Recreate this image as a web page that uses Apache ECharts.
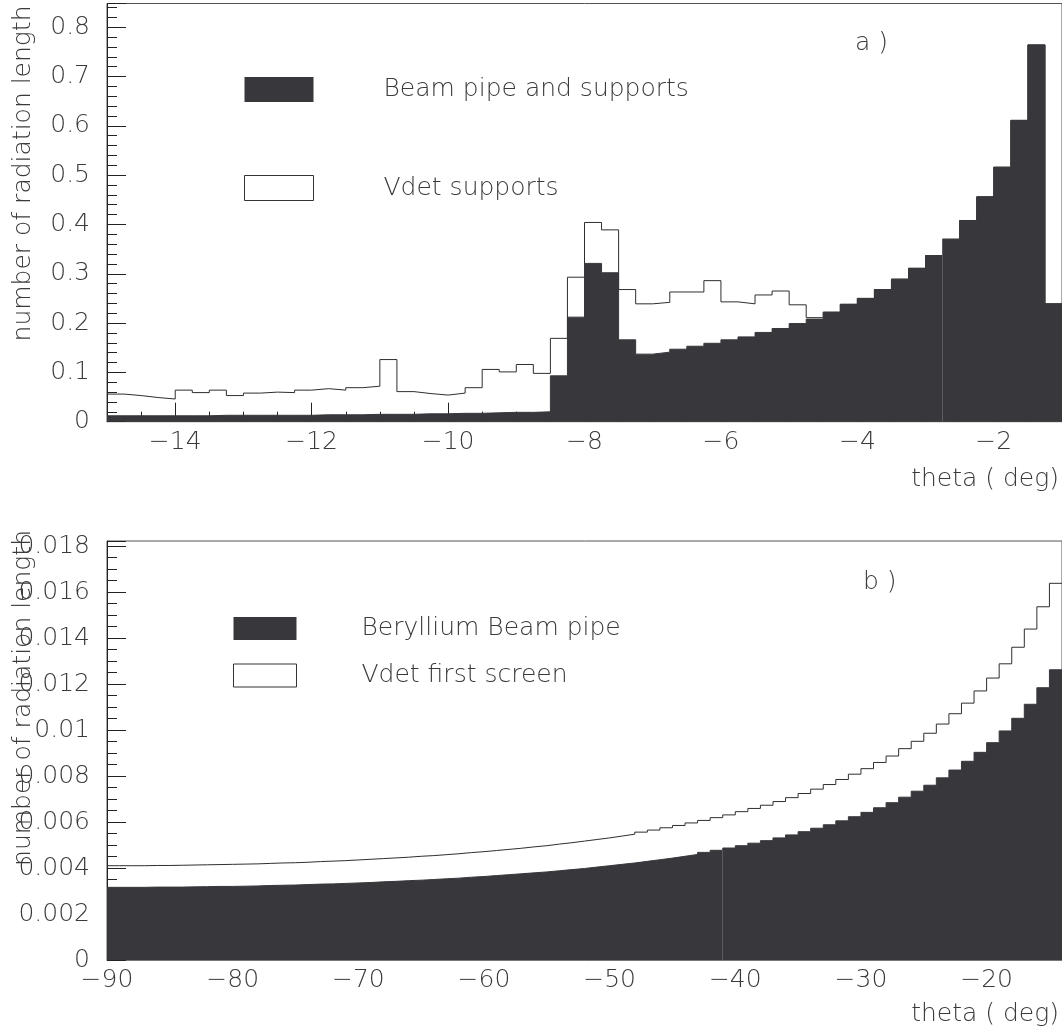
<!DOCTYPE html>
<html>
<head>
<meta charset="utf-8">
<script src="https://cdn.jsdelivr.net/npm/echarts@6/dist/echarts.min.js"></script>
<style>
html,body{margin:0;padding:0;background:#fff;}
#chart{width:1062px;height:1032px;}
</style>
</head>
<body>
<div id="chart"></div>
<script>
// ---------- DATA ----------
// Panel a): bins of 0.25 deg from -15 to -1
const topBinStart = -15;
const topBinWidth = 0.25;
const topBeamPipe = [
  0.012,0.012,0.012,0.012,0.012,0.012,0.013,0.013,0.013,0.013,
  0.013,0.013,0.014,0.014,0.014,0.015,0.015,0.015,0.016,0.016,
  0.017,0.017,0.018,0.019,0.019,0.020,0.093,0.212,0.321,0.302,
  0.166,0.137,0.141,0.147,0.153,0.159,0.166,0.172,0.181,0.189,
  0.199,0.208,0.222,0.238,0.250,0.268,0.289,0.311,0.337,0.370,
  0.408,0.456,0.516,0.611,0.764,0.239
];
const topVdetSupports = [
  0.056,0.053,0.049,0.046,0.064,0.059,0.064,0.053,0.058,0.060,
  0.059,0.064,0.067,0.064,0.069,0.072,0.126,0.061,0.057,0.054,
  0.058,0.069,0.106,0.101,0.116,0.098,0.169,0.293,0.404,0.389,
  0.268,0.239,0.242,0.263,0.263,0.286,0.243,0.239,0.257,0.265,
  0.237,0.211,0.222,0.238,0.250,0.268,0.289,0.311,0.337,0.370,
  0.408,0.456,0.516,0.611,0.764,0.239
];
const topXTickLabels = [-14, -12, -10, -8, -6, -4, -2];
const topSeamBin = 49;

// Panel b): bins of 1 deg from -90 to -14
const botBinStart = -90;
const botBinWidth = 1;
const botBerylliumPipe = [
  0.00316,0.00316,0.00316,0.00317,0.00317,0.00317,0.00318,0.00319,0.00320,0.00320,
  0.00321,0.00322,0.00324,0.00325,0.00326,0.00328,0.00330,0.00331,0.00333,0.00335,
  0.00337,0.00340,0.00342,0.00345,0.00347,0.00350,0.00353,0.00356,0.00360,0.00363,
  0.00367,0.00371,0.00375,0.00379,0.00383,0.00388,0.00393,0.00398,0.00404,0.00410,
  0.00416,0.00422,0.00429,0.00436,0.00443,0.00451,0.00459,0.00468,0.00477,0.00487,
  0.00497,0.00508,0.00519,0.00531,0.00544,0.00558,0.00573,0.00588,0.00605,0.00623,
  0.00642,0.00662,0.00684,0.00708,0.00734,0.00760,0.00792,0.00826,0.00864,0.00903,
  0.00945,0.00996,0.01051,0.01112,0.01184,0.01262
];
const botVdetScreen = [
  0.00410,0.00410,0.00410,0.00411,0.00411,0.00412,0.00413,0.00414,0.00415,0.00416,
  0.00417,0.00418,0.00420,0.00422,0.00423,0.00425,0.00428,0.00430,0.00432,0.00435,
  0.00438,0.00441,0.00444,0.00447,0.00451,0.00454,0.00458,0.00462,0.00467,0.00471,
  0.00476,0.00481,0.00486,0.00492,0.00497,0.00504,0.00510,0.00517,0.00524,0.00531,
  0.00539,0.00547,0.00556,0.00565,0.00575,0.00585,0.00596,0.00607,0.00619,0.00631,
  0.00645,0.00659,0.00673,0.00689,0.00706,0.00724,0.00743,0.00763,0.00785,0.00808,
  0.00832,0.00859,0.00887,0.00919,0.00951,0.00986,0.01026,0.01071,0.01117,0.01170,
  0.01226,0.01288,0.01360,0.01439,0.01536,0.01638
];
const botSeamBin = 49;

// ---------- STYLE ----------
const FILL = '#38373c';
const LINE = '#2e2e2e';
const TEXT = '#3a3a3a';
const FONT = '"DejaVu Sans", Lato, sans-serif';
const FW = 200;
const FS = 25;

function stepPoints(start, width, vals) {
  const pts = vals.map((v, i) => [start + i * width, v]);
  pts.push([start + vals.length * width, vals[vals.length - 1]]);
  return pts;
}
const minus = v => (v < 0 ? '\u2212' + Math.abs(v) : String(v));
const txt = (extra) => Object.assign({color: TEXT, fontFamily: FONT, fontWeight: FW, fontSize: FS}, extra || {});

const chart = echarts.init(document.getElementById('chart'), null, {renderer: 'canvas'});

const yAxisCommon = {
  type: 'value', min: 0,
  name: 'number of radiation length',
  nameLocation: 'end', nameRotate: 90, nameMoveOverlap: false,
  axisLine: {show: true, lineStyle: {color: '#222', width: 1}},
  axisTick: {show: true, inside: true, length: 19, lineStyle: {color: '#222'}},
  splitLine: {show: false},
  axisLabel: {margin: 17, showMaxLabel: false, color: TEXT, fontFamily: FONT, fontWeight: FW, fontSize: FS},
  nameTextStyle: txt({align: 'right', verticalAlign: 'bottom', padding: [0, 0, 71, 0]})
};

const option = {
  animation: false,
  backgroundColor: '#fff',
  title: [
    {text: 'a )', left: 855, top: 31, padding: 0, textStyle: txt()},
    {text: 'b )', left: 863, top: 570, padding: 0, textStyle: txt()}
  ],
  legend: [
    {
      data: [
        {name: 'Beam pipe and supports', icon: 'rect', itemStyle: {color: FILL, borderWidth: 0}},
        {name: 'Vdet supports', icon: 'rect', itemStyle: {color: '#fff', borderColor: '#333', borderWidth: 1}}
      ],
      orient: 'vertical', left: 244, top: 77, padding: 0,
      itemWidth: 69, itemHeight: 25, itemGap: 73, selectedMode: false,
      textStyle: txt({padding: [0, 0, 0, 65]})
    },
    {
      data: [
        {name: 'Beryllium Beam pipe', icon: 'rect', itemStyle: {color: FILL, borderWidth: 0}},
        {name: 'Vdet first screen', icon: 'rect', itemStyle: {color: '#fff', borderColor: '#333', borderWidth: 1}}
      ],
      orient: 'vertical', left: 233, top: 616, padding: 0,
      itemWidth: 63, itemHeight: 23, itemGap: 22, selectedMode: false,
      textStyle: txt({padding: [0, 0, 0, 60]})
    }
  ],
  grid: [
    {left: 107, top: 3.5, width: 957, height: 418.2, show: true, borderColor: '#555', borderWidth: 1, backgroundColor: 'transparent'},
    {left: 107, top: 541, width: 957, height: 419, show: true, borderColor: '#555', borderWidth: 1, backgroundColor: 'transparent'}
  ],
  xAxis: [
    {
      type: 'value', gridIndex: 0, min: -15, max: -1, interval: 1,
      name: 'theta ( deg)', nameLocation: 'end', nameGap: 0, nameMoveOverlap: false,
      nameTextStyle: txt({align: 'right', verticalAlign: 'top', padding: [45, 3, 0, 0]}),
      axisLine: {show: true, onZero: false, lineStyle: {color: '#555'}},
      axisTick: {show: true, inside: true, length: 19, customValues: topXTickLabels, lineStyle: {color: '#222'}},
      axisLabel: {customValues: topXTickLabels, margin: 8, formatter: minus, color: TEXT, fontFamily: FONT, fontWeight: FW, fontSize: FS},
      splitLine: {show: false}
    },
    {
      type: 'value', gridIndex: 0, min: -15, max: -1, interval: 0.5, position: 'bottom',
      axisLine: {show: false, onZero: false},
      axisTick: {show: true, inside: true, length: 10, lineStyle: {color: '#222'}},
      axisLabel: {show: false},
      splitLine: {show: false}
    },
    {
      type: 'value', gridIndex: 1, min: -90, max: -14, interval: 10,
      name: 'theta ( deg)', nameLocation: 'end', nameGap: 0, nameMoveOverlap: false,
      nameTextStyle: txt({align: 'right', verticalAlign: 'top', padding: [42, 3, 0, 0]}),
      axisLine: {show: true, onZero: false, lineStyle: {color: '#777'}},
      axisTick: {show: true, inside: true, length: 19, lineStyle: {color: '#222'}},
      axisLabel: {margin: 8, showMaxLabel: false, formatter: minus, color: TEXT, fontFamily: FONT, fontWeight: FW, fontSize: FS},
      splitLine: {show: false}
    }
  ],
  yAxis: [
    Object.assign({}, yAxisCommon, {gridIndex: 0, max: 0.848, interval: 0.1, nameGap: -2,
      minorTick: {show: true, splitNumber: 5, length: 10, lineStyle: {color: '#222'}}}),
    Object.assign({}, yAxisCommon, {gridIndex: 1, max: 0.01822, interval: 0.002, nameGap: 11,
      minorTick: {show: true, splitNumber: 4, length: 10, lineStyle: {color: '#222'}}})
  ],
  series: [
    {
      name: 'Vdet supports', type: 'line', xAxisIndex: 0, yAxisIndex: 0, z: 2,
      data: stepPoints(topBinStart, topBinWidth, topVdetSupports),
      step: 'end', symbol: 'none', showSymbol: false,
      lineStyle: {color: LINE, width: 1}, itemStyle: {color: '#fff'}
    },
    {
      name: 'Beam pipe and supports', type: 'line', xAxisIndex: 0, yAxisIndex: 0, z: 3,
      data: stepPoints(topBinStart, topBinWidth, topBeamPipe),
      step: 'end', symbol: 'none', showSymbol: false,
      lineStyle: {color: FILL, width: 1}, itemStyle: {color: FILL},
      areaStyle: {color: FILL, opacity: 1},
      markLine: {
        silent: true, symbol: ['none', 'none'], label: {show: false}, animation: false,
        lineStyle: {color: '#5c5b61', width: 1, type: 'solid'},
        data: [[{coord: [topBinStart + topSeamBin * topBinWidth, 0]}, {coord: [topBinStart + topSeamBin * topBinWidth, topBeamPipe[topSeamBin]]}]]
      }
    },
    {
      name: 'Vdet first screen', type: 'line', xAxisIndex: 2, yAxisIndex: 1, z: 2,
      data: stepPoints(botBinStart, botBinWidth, botVdetScreen),
      step: 'end', symbol: 'none', showSymbol: false,
      lineStyle: {color: LINE, width: 1}, itemStyle: {color: '#fff'}
    },
    {
      name: 'Beryllium Beam pipe', type: 'line', xAxisIndex: 2, yAxisIndex: 1, z: 3,
      data: stepPoints(botBinStart, botBinWidth, botBerylliumPipe),
      step: 'end', symbol: 'none', showSymbol: false,
      lineStyle: {color: FILL, width: 1}, itemStyle: {color: FILL},
      areaStyle: {color: FILL, opacity: 1},
      markLine: {
        silent: true, symbol: ['none', 'none'], label: {show: false}, animation: false,
        lineStyle: {color: '#5c5b61', width: 1, type: 'solid'},
        data: [[{coord: [botBinStart + botSeamBin * botBinWidth, 0]}, {coord: [botBinStart + botSeamBin * botBinWidth, botBerylliumPipe[botSeamBin]]}]]
      }
    }
  ]
};
chart.setOption(option);
</script>
</body>
</html>
